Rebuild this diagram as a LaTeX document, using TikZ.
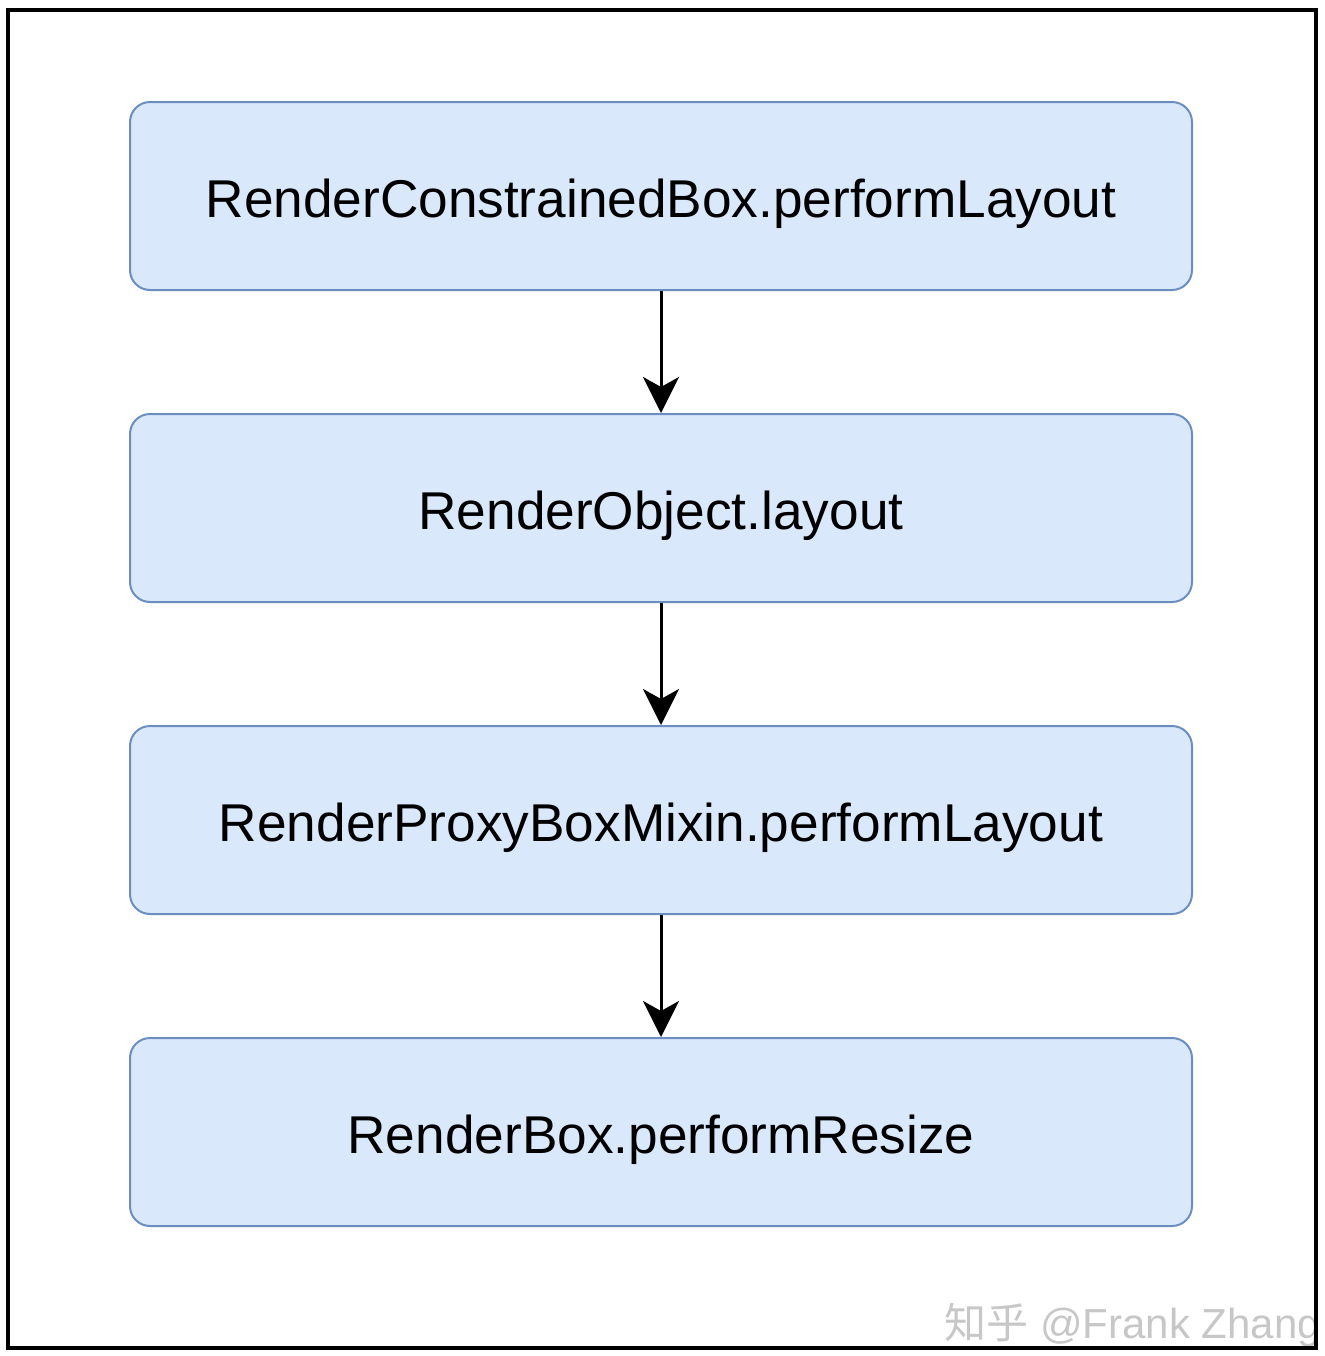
\documentclass[tikz,border=0pt]{standalone}
\usepackage{fontspec}
\setmainfont{Liberation Sans}
\newfontfamily\cjk{Noto Sans CJK SC}
\usetikzlibrary{arrows.meta}
\definecolor{boxfill}{HTML}{DAE8FC}
\definecolor{boxline}{HTML}{6C8EBF}
\tikzset{
  flowbox/.style={draw=boxline, fill=boxfill, line width=1pt, rounded corners=10pt,
    minimum width=531pt, minimum height=94pt, inner sep=0pt,
    text height=24pt, text depth=3pt, font=\fontsize{26.6}{30}\selectfont},
  flowarrow/.style={line width=1.5pt, -{Stealth[length=18pt, width=18pt, inset=5pt]}},
}
\begin{document}
\begin{tikzpicture}[x=0.5pt, y=-0.5pt]
\useasboundingbox (0,0) rectangle (1324,1356);
\fill[white] (0,0) rectangle (1324,1356);
\node[flowbox] (b1) at (661,196) {RenderConstrainedBox.performLayout};
\node[flowbox] (b2) at (661,508) {RenderObject.layout};
\node[flowbox] (b3) at (661,820) {RenderProxyBoxMixin.performLayout};
\node[flowbox] (b4) at (661,1132) {RenderBox.performResize};
\draw[flowarrow] (b1) -- (b2);
\draw[flowarrow] (b2) -- (b3);
\draw[flowarrow] (b3) -- (b4);
\node[anchor=base west, text=black!22, inner sep=0pt, font=\fontsize{21}{24}\selectfont] (wm) at (944,1338) {{\cjk 知乎}\ @Frank Zhang};
\draw[line width=2pt, black] (8,10) rectangle (1316,1348);
\end{tikzpicture}
\end{document}
